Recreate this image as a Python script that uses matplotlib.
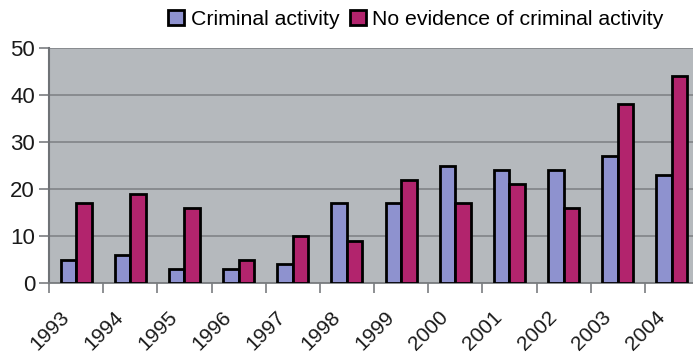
import matplotlib
matplotlib.use("Agg")
import matplotlib.pyplot as plt
import matplotlib.transforms as mtransforms
import numpy as np

years = ["1993", "1994", "1995", "1996", "1997", "1998", "1999", "2000", "2001", "2002", "2003", "2004"]
criminal = [5, 6, 3, 3, 4, 17, 17, 25, 24, 24, 27, 23]
no_evidence = [17, 19, 16, 5, 10, 9, 22, 17, 21, 16, 38, 44]

plt.rcParams['font.family'] = ['Liberation Sans', 'DejaVu Sans']

W, H = 693, 355
fig = plt.figure(figsize=(W / 100, H / 100), dpi=100)
left, right, top, bottom = 49, 699, 48, 283
ax = fig.add_axes([left / W, 1 - bottom / H, (right - left) / W, (bottom - top) / H])
ax.set_facecolor('#b5b9bd')

x = np.arange(len(years))
bw = 0.285
ax.bar(x - bw / 2, criminal, bw, color='#8e92cf', edgecolor='black', linewidth=2.0,
       label='Criminal activity', zorder=3)
ax.bar(x + bw / 2, no_evidence, bw, color='#b2246d', edgecolor='black', linewidth=2.0,
       label='No evidence of criminal activity', zorder=3)

ax.set_xlim(-0.5, len(years) - 0.5)
ax.set_ylim(0, 50)
ax.set_yticks([0, 10, 20, 30, 40, 50])
ax.yaxis.grid(True, color='#85888c', linewidth=1.3, zorder=1)
ax.tick_params(axis='y', length=7, width=1.2, color='#7a7d80', labelsize=16, pad=3, labelcolor='#1a1a1a')

# category labels
ax.set_xticks([])
offset = mtransforms.ScaledTranslation(-6 / 100, -35 / 100, fig.dpi_scale_trans)
trans = mtransforms.blended_transform_factory(ax.transData, ax.transAxes) + offset
for xi, lab in zip(x, years):
    ax.text(xi, 0, lab, transform=trans, rotation=45, ha='right', va='baseline',
            rotation_mode='anchor', fontsize=15, color='#1a1a1a', clip_on=False)
ax.set_xticks(np.arange(len(years) + 1) - 0.5, minor=True)
ax.tick_params(axis='x', which='minor', length=7, width=1.2, color='#7a7d80', direction='out')

for s in ['top', 'right']:
    ax.spines[s].set_visible(False)
ax.spines['left'].set_color('#6f7276')
ax.spines['left'].set_linewidth(1.5)
ax.spines['bottom'].set_color('#7a7d80')
ax.spines['bottom'].set_linewidth(1.3)

leg = fig.legend(loc='upper right', bbox_to_anchor=(673 / W, 1.0), ncol=2, frameon=False,
                 fontsize=15.3, handlelength=0.75, handleheight=0.75, handletextpad=0.3,
                 columnspacing=0.5, borderaxespad=0.05)
for h in leg.legend_handles:
    h.set_linewidth(2.0)

fig.savefig('out.png', dpi=100, facecolor='white')
